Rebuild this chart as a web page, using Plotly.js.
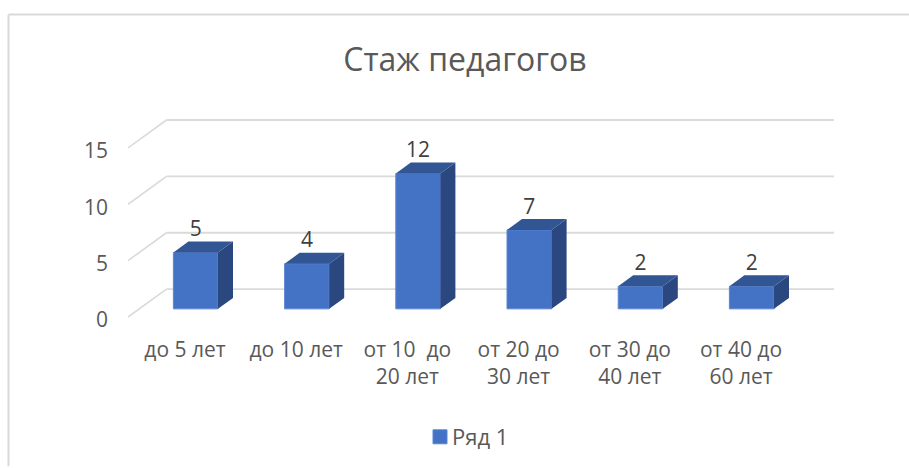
<!DOCTYPE html>
<html><head><meta charset="utf-8">
<script src="https://cdn.plot.ly/plotly-3.0.1.min.js"></script>
<style>html,body{margin:0;padding:0;background:#fff}</style></head>
<body><div id="chart" style="width:909px;height:468px"></div>
<script>
const categories = ["до 5 лет","до 10 лет","от 10  до<br>20 лет","от 20 до<br>30 лет","от 30 до<br>40 лет","от 40 до<br>60 лет"];
const values = [5,4,12,7,2,2];
const yTicks = [0,5,10,15];
const seriesName = "Ряд 1";
const idx = categories.map((_,i)=>i);

const W=909,H=468,L=128,R=834,B=321,T=114;
const pxX=111.2, pxY=11.33;
const xMin=(L-185)/pxX, xMax=(R-185)/pxX, yMax=(B-T)/pxY;
const lift=(B-318)/pxY;
const wallDx=38.5/pxX, wallDy=28/pxY;
const barShiftX=10.7/pxX, barBase=(B-309.8)/pxY, barW=44.6/pxX, capDx=15/pxX, capDy=11/pxY;
const grid="#DADADA", ink="#595959";

const shapes=[];
yTicks.forEach(v=>{
  const y0=v+lift;
  shapes.push({type:"line",layer:"below",xref:"x",yref:"y",x0:xMin,y0:y0,x1:xMin+wallDx,y1:y0+wallDy,line:{color:grid,width:1.6}});
  shapes.push({type:"line",layer:"below",xref:"x",yref:"y",x0:xMin+wallDx,y0:y0+wallDy,x1:xMax,y1:y0+wallDy,line:{color:grid,width:1.8}});
});
const fx=p=>(p-L)/(R-L);
const py=p=>(B-p)/(B-T);
[[8.5,14,909,14],[8.5,14,8.5,468]].forEach(s=>{
  shapes.push({type:"line",layer:"below",xref:"paper",yref:"paper",x0:fx(s[0]),y0:py(s[1]),x1:fx(s[2]),y1:py(s[3]),line:{color:"#D9D9D9",width:2}});
});

const traces=[{
  type:"bar",name:seriesName,x:idx.map(i=>i+barShiftX),y:values,base:values.map(()=>barBase),width:barW,
  marker:{color:"#4472C4",line:{color:"#5B86D2",width:1}},showlegend:true,hoverinfo:"skip"
}];
idx.forEach(i=>{
  const l=i+barShiftX-barW/2,r=i+barShiftX+barW/2,b=barBase,t=barBase+values[i];
  traces.push({type:"scatter",mode:"lines",x:[r,r+capDx,r+capDx,r,r],y:[b,b+capDy,t+capDy,t,b],fill:"toself",fillcolor:"#2A4780",line:{width:0,color:"#2A4780"},showlegend:false,hoverinfo:"skip"});
  traces.push({type:"scatter",mode:"lines",x:[l,l+capDx,r+capDx,r,l],y:[t,t+capDy,t+capDy,t,t],fill:"toself",fillcolor:"#325593",line:{width:0,color:"#325593"},showlegend:false,hoverinfo:"skip"});
});
traces.push({type:"scatter",mode:"text",x:idx.map(i=>i+barShiftX),y:values.map(v=>v+2.9),text:values.map(String),textposition:"middle center",textfont:{size:21,color:"#404040",family:"Open Sans"},showlegend:false,hoverinfo:"skip"});

Plotly.newPlot("chart",traces,{
  width:W,height:H,margin:{l:L,r:W-R,t:T,b:H-B,pad:0},
  paper_bgcolor:"#fff",plot_bgcolor:"rgba(0,0,0,0)",
  font:{family:"Open Sans",color:ink,size:21},
  title:{text:"Стаж педагогов",font:{size:32,color:ink,family:"Open Sans"},x:465/W,xanchor:"center",y:1-60/H,yanchor:"middle"},
  xaxis:{range:[xMin,xMax],tickmode:"array",tickvals:idx,ticktext:categories,showgrid:false,zeroline:false,showline:false,ticks:"",tickangle:0,tickfont:{size:21,color:ink},ticklabelstandoff:15,automargin:false},
  yaxis:{range:[0,yMax],tickmode:"array",tickvals:yTicks,ticktext:yTicks.map(String),showgrid:false,zeroline:false,showline:false,ticks:"",tickfont:{size:21,color:ink},ticklabelstandoff:19,automargin:false},
  shapes:shapes,
  showlegend:true,
  legend:{orientation:"h",x:fx(471),xanchor:"center",y:py(437),yanchor:"middle",font:{size:22,color:ink},itemwidth:30,bgcolor:"rgba(0,0,0,0)"},
  hovermode:false
},{displayModeBar:false,staticPlot:true}).then(gd=>{
  gd.querySelectorAll(".legendtext").forEach(t=>t.setAttribute("x",+t.getAttribute("x")-8));
  gd.querySelectorAll(".legendbar path, .legendpoints path").forEach(p=>p.setAttribute("d","M7,7H-7V-7H7Z"));
});
</script></body></html>
